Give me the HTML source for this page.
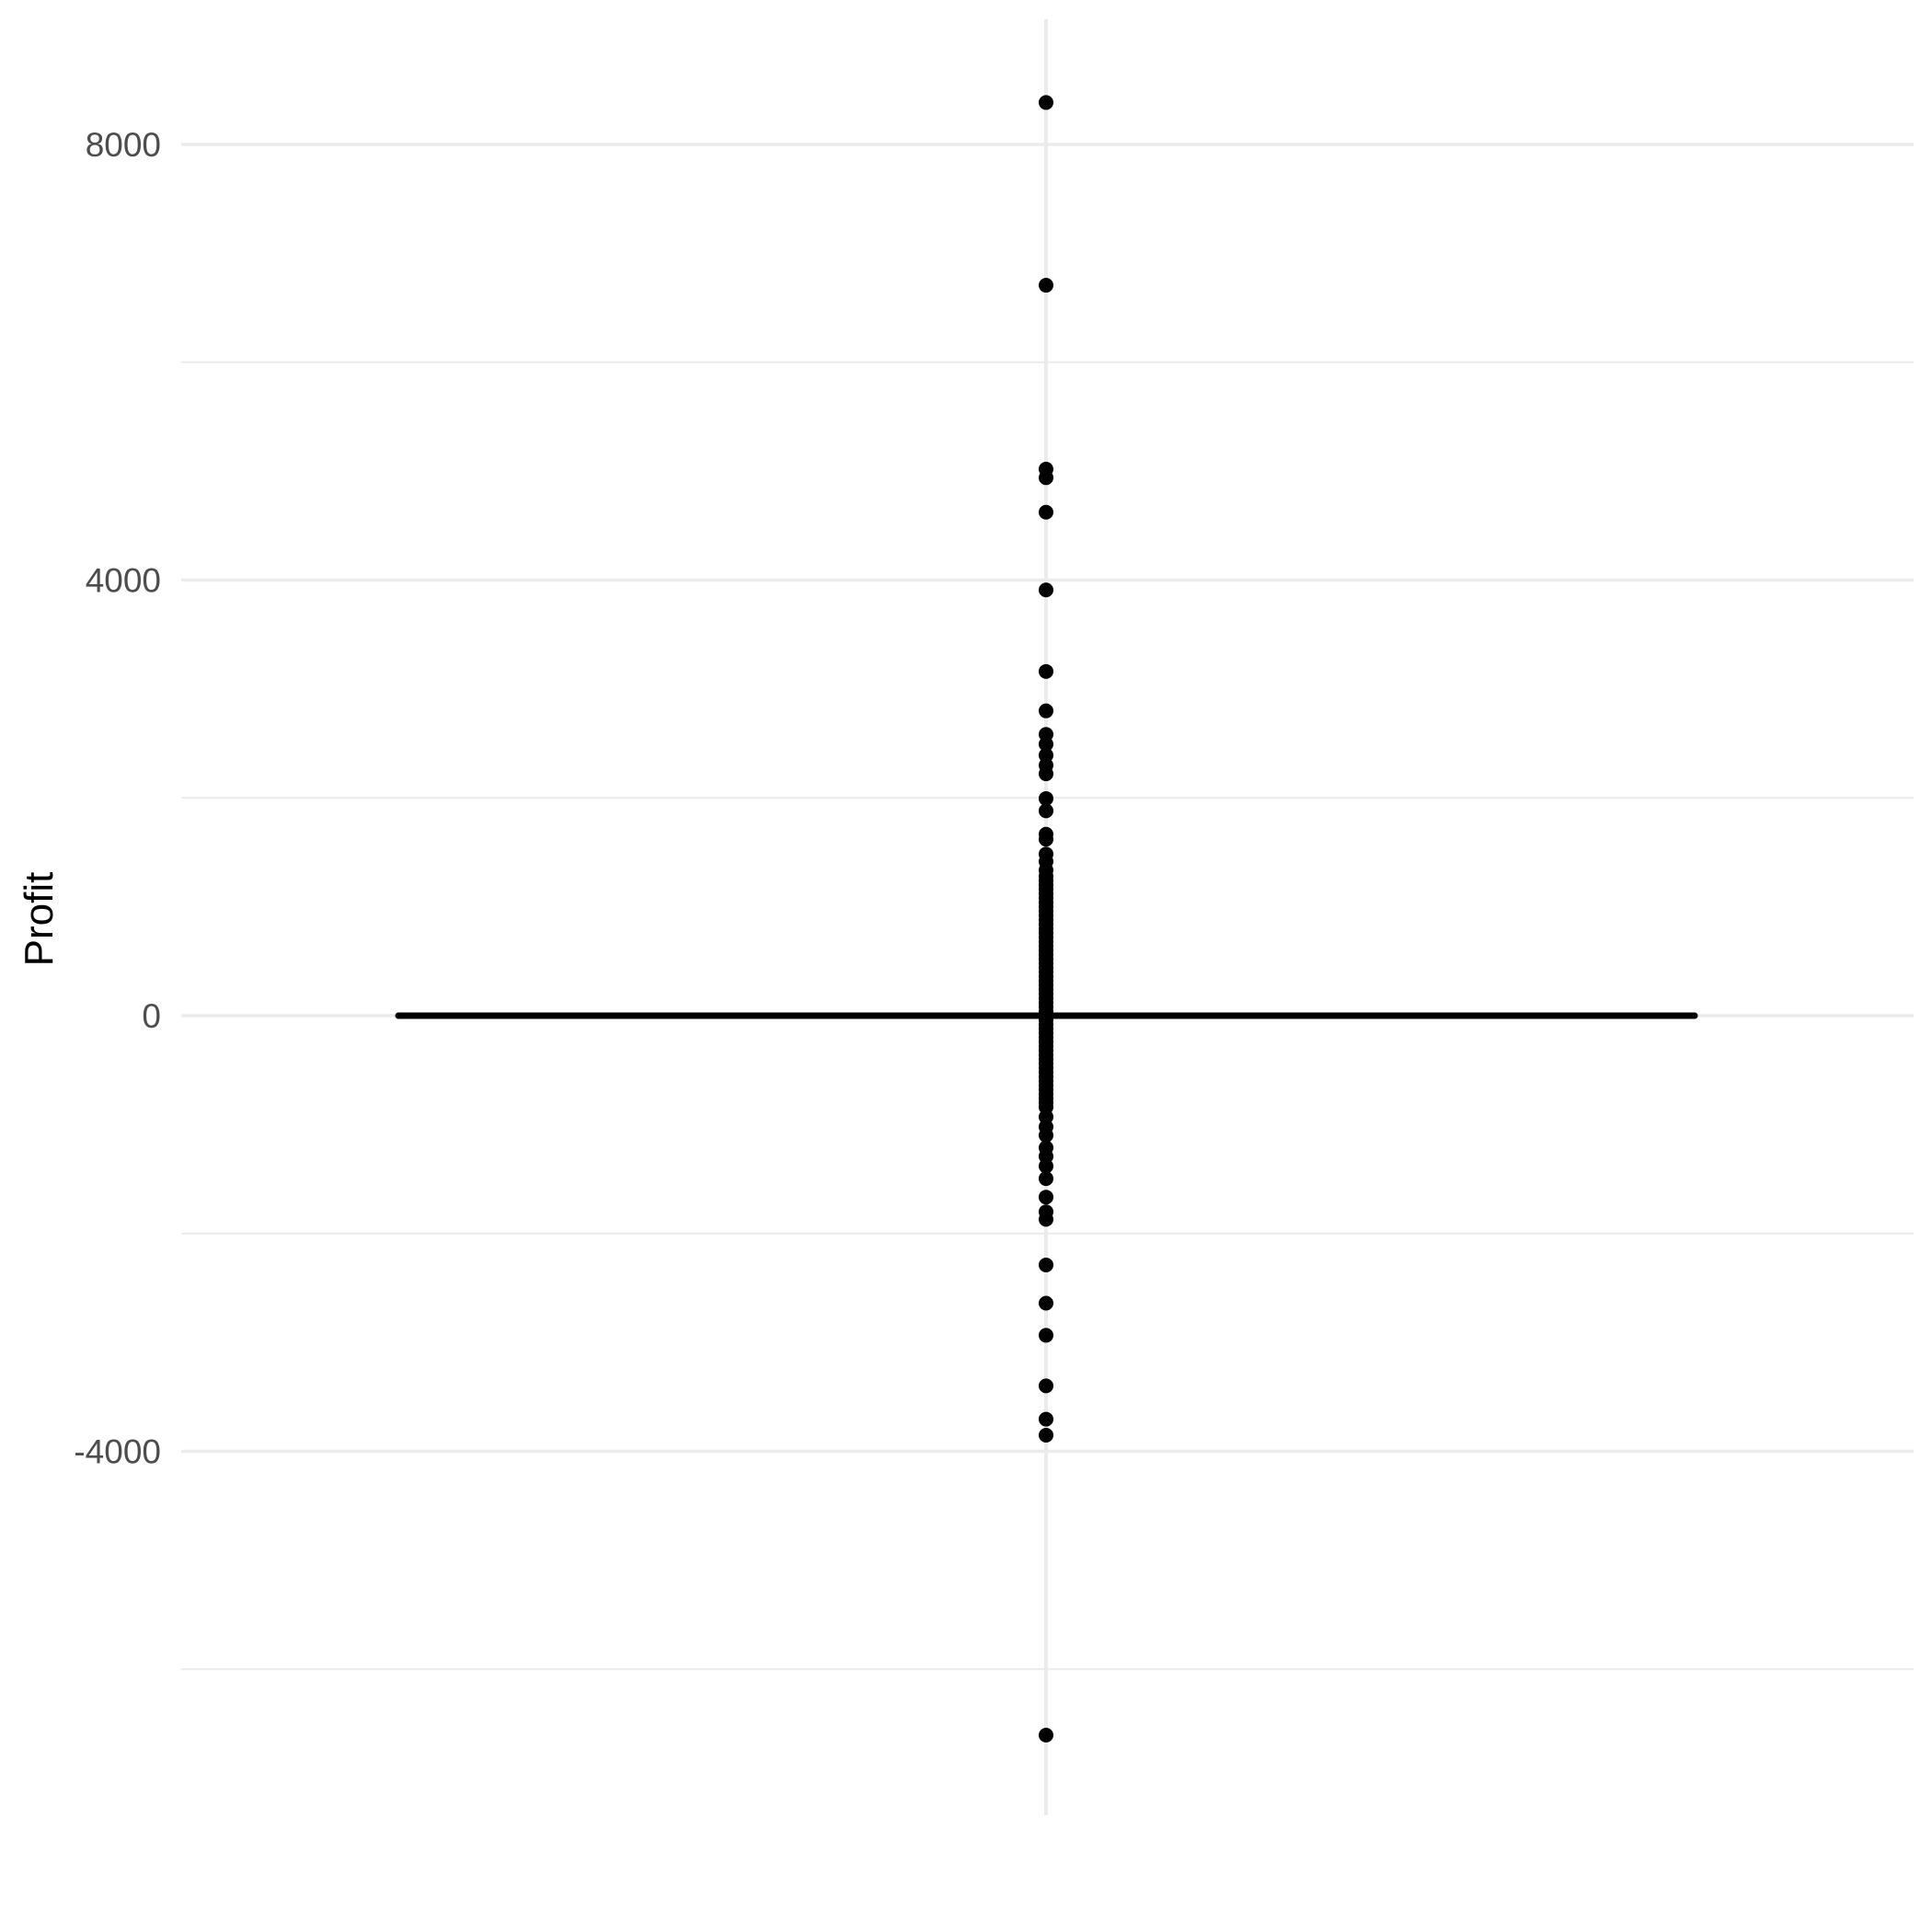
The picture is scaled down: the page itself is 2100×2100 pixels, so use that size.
<!DOCTYPE html>
<html><head><meta charset="utf-8"><style>
html,body{margin:0;padding:0;background:#fff;}
svg{display:block;}
</style></head><body>
<svg id="chart" width="2100" height="2100" viewBox="0 0 2100 2100" xmlns="http://www.w3.org/2000/svg" font-family="Liberation Sans, sans-serif">
<rect width="2100" height="2100" fill="#fff"/>
<g id="grid"></g>
<g id="yticks"></g>
<text transform="translate(57,999) rotate(-90)" text-anchor="middle" font-size="44" fill="#000">Profit</text>
<g id="marks"></g>
</svg>
<script>
const majorTicks = [8000, 4000, 0, -4000];
const tickLabels = ["8000", "4000", "0", "-4000"];
const minorTicks = [6000, 2000, -2000, -6000];
const medianValue = [0];
const profitValues = [8385, 6707, 5019, 4940, 4623, 3909, 3161, 2799, 2583, 2493, 2391, 2300, 2221, 1994, 1881, 1666, 1620, 1484, 1416, 1337,
 1280, 1240, 1200, 1160, 1120, 1080, 1040, 1000, 960, 920, 880, 840, 800, 760, 720, 680, 640, 600, 560, 520, 480, 440, 400, 360, 320, 280, 240, 200, 160, 120, 80, 40, 0,
 -40, -80, -120, -160, -200, -240, -280, -320, -360, -400, -440, -480, -520, -560, -600, -640, -680, -720, -760, -800, -840,
 -929, -1020, -1099, -1212, -1292, -1382, -1496, -1666, -1801, -1870, -2289, -2640, -2935, -3399, -3705, -3852, -6606];

const NS = "http://www.w3.org/2000/svg";
const y = v => 1104 - v * (473.5 / 4000);
const xCenter = 1137, xLeft = 197, xRight = 2080;

const grid = document.getElementById('grid');
const vg = document.createElementNS(NS, 'line');


vg.setAttribute('x1', xCenter); vg.setAttribute('x2', xCenter);
vg.setAttribute('y1', 21); vg.setAttribute('y2', 1973);
vg.setAttribute('stroke', '#ebebeb'); vg.setAttribute('stroke-width', 4);
grid.appendChild(vg);
minorTicks.forEach(v => {
  const l = document.createElementNS(NS, 'line');
  
  
  l.setAttribute('x1', xLeft); l.setAttribute('x2', xRight);
  l.setAttribute('y1', y(v)); l.setAttribute('y2', y(v));
  l.setAttribute('stroke', '#ebebeb'); l.setAttribute('stroke-width', 2);
  grid.appendChild(l);
});
majorTicks.forEach((v, i) => {
  const l = document.createElementNS(NS, 'line');
  
  
  l.setAttribute('x1', xLeft); l.setAttribute('x2', xRight);
  l.setAttribute('y1', y(v)); l.setAttribute('y2', y(v));
  l.setAttribute('stroke', '#ebebeb'); l.setAttribute('stroke-width', 3.5);
  grid.appendChild(l);
  const t = document.createElementNS(NS, 'text');
  
  
  t.setAttribute('x', 175); t.setAttribute('y', y(v) + 13);
  t.setAttribute('text-anchor', 'end'); t.setAttribute('font-size', 37);
  t.setAttribute('fill', '#4d4d4d');
  t.textContent = tickLabels[i];
  document.getElementById('yticks').appendChild(t);
});

const marks = document.getElementById('marks');
profitValues.forEach(v => {
  const c = document.createElementNS(NS, 'circle');
  
  
  c.setAttribute('cx', xCenter); c.setAttribute('cy', y(v));
  c.setAttribute('r', 8); c.setAttribute('fill', '#000');
  marks.appendChild(c);
});
const med = document.createElementNS(NS, 'line');


med.setAttribute('x1', 433); med.setAttribute('x2', 1842);
med.setAttribute('y1', y(medianValue[0])); med.setAttribute('y2', y(medianValue[0]));
med.setAttribute('stroke', '#000'); med.setAttribute('stroke-width', 7);
med.setAttribute('stroke-linecap', 'round');
marks.appendChild(med);
</script>
</body></html>
